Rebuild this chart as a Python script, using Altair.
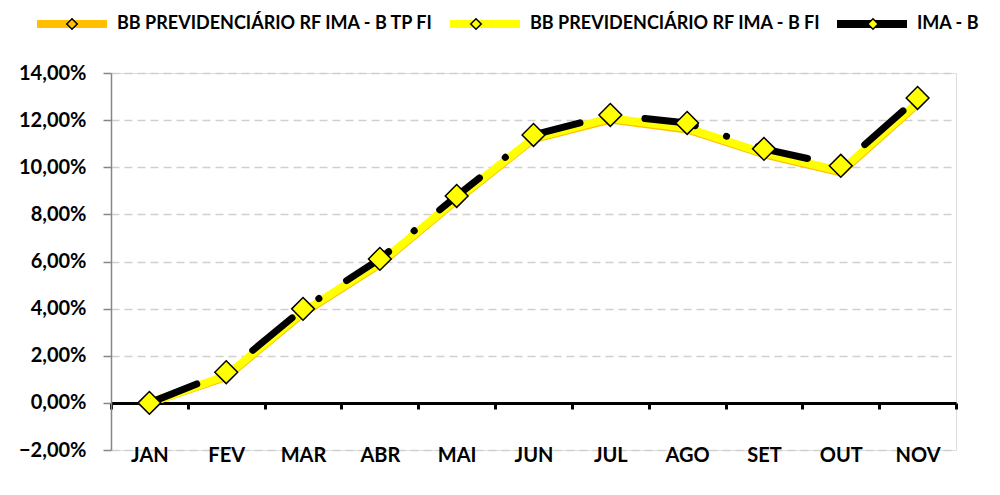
import altair as alt
import pandas as pd

months = ["JAN", "FEV", "MAR", "ABR", "MAI", "JUN", "JUL", "AGO", "SET", "OUT", "NOV"]
series_names = ["BB PREVIDENCIÁRIO RF IMA - B TP FI", "BB PREVIDENCIÁRIO RF IMA - B FI", "IMA - B"]
tp_fi = [0.00, 1.10, 3.81, 5.89, 8.60, 11.19, 12.02, 11.60, 10.55, 9.78, 12.68]
fi = [0.00, 1.15, 3.86, 5.94, 8.65, 11.24, 12.08, 11.66, 10.60, 9.84, 12.74]
ima_b = [0.00, 1.30, 3.99, 6.11, 8.78, 11.37, 12.22, 11.88, 10.78, 10.06, 12.94]
line_colors = ["#FFC000", "#FFFF00", "#000000"]
marker_fill = ["#FFC000", "#FFFF00", "#FFFF00"]
y_ticks = [-2, 0, 2, 4, 6, 8, 10, 12, 14]

rows = []
for name, vals in zip(series_names, [tp_fi, fi, ima_b]):
    for m, v in zip(months, vals):
        rows.append({"mes": m, "serie": name, "serie2": name, "valor": v})
df = pd.DataFrame(rows)

FONT = "Lato"
LEG_FONT_SIZE = 18

x_enc = alt.X(
    "mes:N",
    sort=months,
    scale=alt.Scale(type="band", paddingInner=0, paddingOuter=0),
    axis=alt.Axis(
        title=None,
        offset=-47,
        domainColor="#000000",
        domainWidth=3,
        tickColor="#000000",
        tickWidth=3,
        tickSize=6,
        tickBand="extent",
        labelPadding=36,
        labelFont=FONT,
        labelFontSize=20,
        labelFontWeight="bold",
        labelColor="#000000",
        labelAngle=0,
        grid=False,
    ),
)

y_enc = alt.Y(
    "valor:Q",
    scale=alt.Scale(domain=[-2, 14], nice=False, zero=False),
    axis=alt.Axis(
        title=None,
        values=y_ticks,
        labelExpr="replace(format(datum.value, '.2f'), '.', ',') + '%'",
        labelFont=FONT,
        labelFontSize=20,
        labelFontWeight="bold",
        labelColor="#000000",
        labelPadding=17,
        domainColor="#868686",
        domainWidth=1.5,
        tickColor="#868686",
        tickWidth=1.5,
        tickSize=8,
        grid=True,
        gridColor="#d0d0d0",
        gridWidth=1.5,
        gridDash=[8, 5],
    ),
)

LEG_X = -78
LEG_Y = -88

color_enc = alt.Color(
    "serie:N",
    scale=alt.Scale(domain=series_names, range=line_colors),
    legend=alt.Legend(
        title=None,
        orient="none",
        direction="horizontal",
        legendX=LEG_X,
        legendY=LEG_Y,
        padding=0,
        symbolType="stroke",
        symbolSize=4900,
        symbolStrokeWidth=8,
        labelFont=FONT,
        labelFontSize=LEG_FONT_SIZE,
        labelFontWeight="bold",
        labelColor="#000000",
        labelOffset=6,
        columnPadding=0,
        labelLimit=500,
    ),
)

# marker legend overlaid on the line legend (its labels are hidden)
fill_enc = alt.Fill(
    "serie2:N",
    scale=alt.Scale(domain=series_names[::-1], range=marker_fill[::-1]),
    legend=alt.Legend(
        title=None,
        orient="none",
        direction="horizontal",
        legendX=LEG_X,
        legendY=LEG_Y,
        padding=0,
        values=series_names,
        labelExpr="(datum.label == 'IMA - B' || indexof(datum.label, 'TP FI') >= 0) ? datum.label : datum.label + 'xx'",
        symbolType="M-1,0M1,0M0,-0.137L0.137,0L0,0.137L-0.137,0Z",
        symbolSize=5852.25,
        symbolStrokeColor="#000000",
        symbolStrokeWidth=1.5,
        symbolOpacity=1,
        labelFont=FONT,
        labelFontSize=LEG_FONT_SIZE,
        labelFontWeight="bold",
        labelOpacity=0,
        labelOffset=6,
        columnPadding=0,
        labelLimit=500,
    ),
)

base = alt.Chart(df)

line_tp = base.transform_filter(alt.datum.serie == series_names[0]).mark_line(
    strokeWidth=8, strokeCap="round", strokeJoin="round"
).encode(x=x_enc, y=y_enc, color=color_enc)

line_fi = base.transform_filter(alt.datum.serie == series_names[1]).mark_line(
    strokeWidth=8, strokeCap="round", strokeJoin="round"
).encode(x=x_enc, y=y_enc, color=color_enc)

line_ima = base.transform_filter(alt.datum.serie == series_names[2]).mark_line(
    strokeWidth=7, strokeCap="round", strokeJoin="round", strokeDash=[51, 33, 0.1, 33]
).encode(x=x_enc, y=y_enc, color=color_enc)

points = base.transform_calculate(
    tam="datum.serie == 'IMA - B' ? 520 : 50",
    ordem="datum.serie == 'IMA - B' ? 2 : 1",
).mark_point(
    shape="diamond", filled=True, stroke="#000000", strokeWidth=1.5, opacity=1
).encode(
    x=x_enc,
    y=y_enc,
    fill=fill_enc,
    size=alt.Size("tam:Q", scale=None, legend=None),
    order=alt.Order("ordem:Q"),
)

chart = alt.layer(line_tp, line_fi, line_ima, points).properties(
    width=845,
    height=377,
    autosize=alt.AutoSizeParams(type="none"),
    padding={"left": 103, "top": 65, "right": 36, "bottom": 37},
).configure_view(stroke=None).configure(background="#ffffff")

chart.save("out.html", embed_options={"renderer": "svg", "actions": False})
